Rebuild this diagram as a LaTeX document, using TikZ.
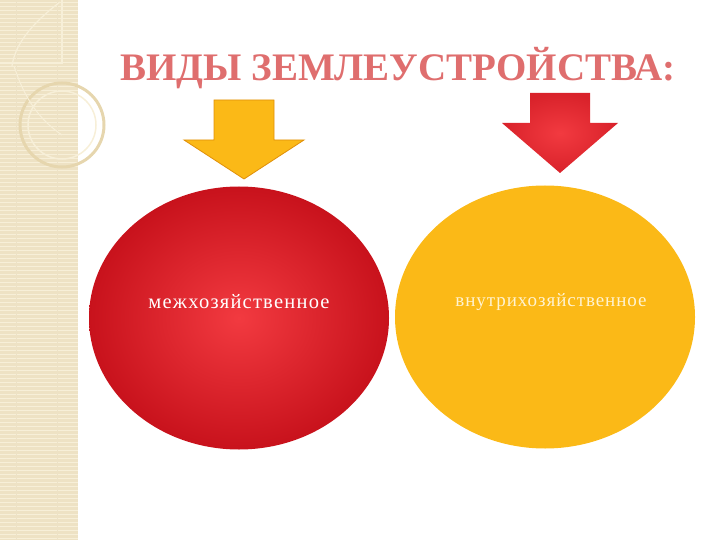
\documentclass[tikz,border=0pt]{standalone}
\usepackage{fontspec}
\setmainfont{Liberation Serif}
\usetikzlibrary{positioning,shapes.geometric}
\definecolor{titlered}{HTML}{DF6E6E}
\definecolor{stripbg}{HTML}{EEE2C4}
\definecolor{stripline}{HTML}{F7EFD8}
\definecolor{ringcol}{HTML}{E6D6AE}
\definecolor{amber}{HTML}{FBB917}
\definecolor{amberedge}{HTML}{E0900A}
\definecolor{deepred}{HTML}{C8121C}
\definecolor{litered}{HTML}{F23A40}
\definecolor{creamtext}{HTML}{FFF3D0}

\begin{document}
\begin{tikzpicture}[x=1pt,y=-1pt,
	kindcircle/.style={ellipse, minimum width=300pt, minimum height=263pt, inner sep=0pt},
	kindtext/.style={font=\fontsize{19}{22}\selectfont}]

\useasboundingbox (0,0) rectangle (720,540);

% Draw the decorative strip on the left
\fill[stripbg] (0,0) rectangle (78,540);
\foreach \y in {2,6,...,538}
\draw[stripline, line width=0.8pt] (0,\y) -- (78,\y);
\foreach \x in {16,57}
\draw[ringcol!70, line width=0.5pt] (\x,0) -- (\x,540);
\draw[stripline, line width=1.2pt] (0,63) -- (62,63) -- (62,0);
\draw[stripline, line width=1.2pt] (60,2) .. controls (30,25) and (15,45) .. (12,66);
\draw[ringcol, line width=3pt] (62,125) circle (42);
\draw[stripline, line width=1.5pt] (62,125) circle (34);
\draw[stripline, line width=1pt] (14,66) .. controls (25,100) and (40,120) .. (62,135);

% A block arrow pointing down: top centre (#1), shaft width #2, shaft length #3, head half-width #4, head length #5
\newcommand{\kindarrow}[6]{%
	\draw[#6] (#1) ++(-#2/2,0) -- ++(#2,0) -- ++(0,#3) -- ++(#4-#2/2,0)
	-- ++(-#4,#5) -- ++(-#4,-#5) -- ++(#4-#2/2,0) -- cycle;
}

% Title
\node[font=\fontsize{39}{42}\selectfont\bfseries, text=titlered] (title) at (398,68) {ВИДЫ ЗЕМЛЕУСТРОЙСТВА:};

% Arrows
\coordinate (A1) at (244,100);
\coordinate (A2) at (560,93);
\kindarrow{A1}{60}{40}{60}{39}{fill=amber, draw=amberedge, line width=0.8pt}
\kindarrow{A2}{60}{30}{58}{50}{inner color=litered, outer color=deepred!60!litered, draw=none}

% The two kinds
\node[kindcircle, inner color=litered, outer color=deepred] (inter) at (239,318) {};
\node[kindcircle, fill=amber] (intra) at (545,317) {};
\node[kindtext, font=\fontsize{20.5}{23}\selectfont, text=white] (intertext) at (239,302) {\addfontfeatures{LetterSpace=6}межхозяйственное};
\node[kindtext, text=creamtext] (intratext) at (551,302) {\addfontfeatures{LetterSpace=5}внутрихозяйственное};
\end{tikzpicture}
\end{document}
